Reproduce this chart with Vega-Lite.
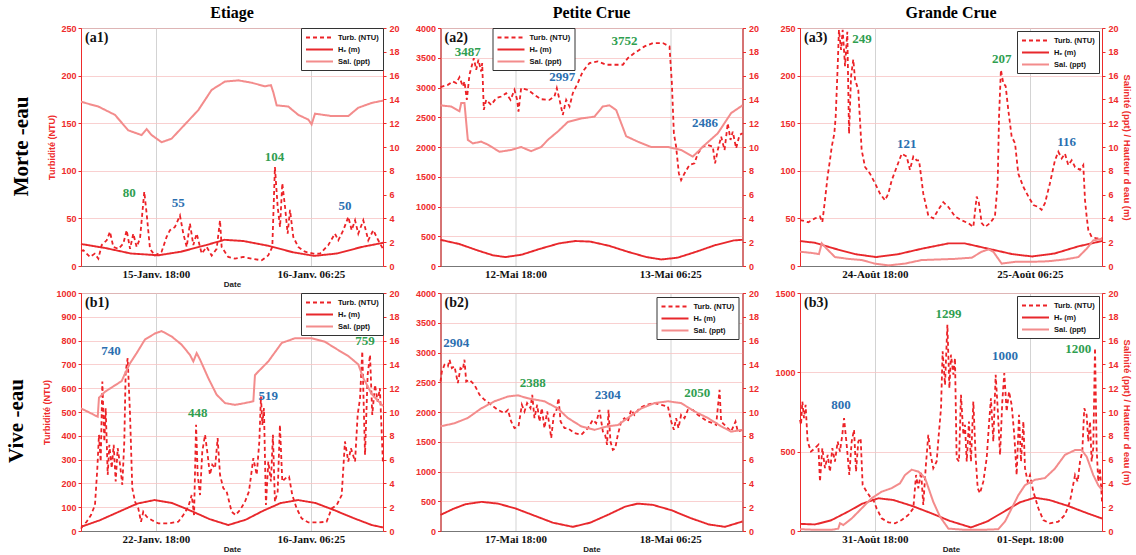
{
"$schema": "https://vega.github.io/schema/vega-lite/v6.json",
"background": "white",
"padding": {"left": 6, "top": 4, "right": 5, "bottom": 3},
"config": {
  "font": "Liberation Sans",
  "view": {"stroke": "#7a7a7a", "strokeWidth": 1},
  "title": {"font": "Liberation Serif", "fontSize": 16, "fontWeight": "bold", "color": "#000", "offset": 3, "anchor": "middle", "frame": "group"},
  "axis": {"labelFont": "Liberation Sans", "labelFontWeight": "bold", "labelFontSize": 9, "titleFont": "Liberation Sans", "titleFontWeight": "bold", "titleFontSize": 9, "tickSize": 3, "domainWidth": 1, "gridWidth": 0.8, "labelOverlap": false},
  "axisX": {"labelFont": "Liberation Serif", "labelFontSize": 11, "labelColor": "#111", "titleColor": "#222", "titleFontSize": 8, "titlePadding": 1, "labelPadding": 2, "ticks": false, "domainColor": "#777", "gridColor": "#c8c8c8", "grid": true},
  "axisLeft": {"labelColor": "#ee2b2b", "titleColor": "#ee2b2b", "domainColor": "#ee2b2b", "tickColor": "#ee2b2b", "gridColor": "#f7c4c4", "grid": true, "labelPadding": 2, "titlePadding": 4, "format": "d", "labelOverlap": false},
  "axisRight": {"labelColor": "#ee2b2b", "titleColor": "#ee2b2b", "domainColor": "#ee2b2b", "tickColor": "#ee2b2b", "grid": false, "labelPadding": 3, "titlePadding": 3, "titleFontSize": 9.5, "format": "d", "labelOverlap": false},
  "legend": {"strokeColor": "#333", "fillColor": "white", "padding": 4, "cornerRadius": 0, "labelFont": "Liberation Sans", "labelFontWeight": "bold", "labelFontSize": 7.5, "labelColor": "#111", "symbolSize": 81, "labelOffset": 22, "rowPadding": 2, "offset": 0}
},
"datasets": {
  "a1t": [{"h":0,"v":16},{"h":0.19,"v":16.5},{"h":0.72,"v":9.5},{"h":1.1,"v":13},{"h":1.39,"v":7.7},{"h":1.66,"v":22},{"h":2.06,"v":27},{"h":2.32,"v":36},{"h":2.59,"v":20},{"h":3.0,"v":18},{"h":3.39,"v":23.5},{"h":3.66,"v":37.6},{"h":3.93,"v":18},{"h":4.19,"v":34},{"h":4.46,"v":20},{"h":4.73,"v":29},{"h":4.91,"v":55},{"h":5.07,"v":78},{"h":5.26,"v":55},{"h":5.53,"v":18},{"h":5.93,"v":11},{"h":6.46,"v":15},{"h":6.86,"v":30.5},{"h":7.13,"v":37.6},{"h":7.53,"v":41},{"h":7.93,"v":53},{"h":8.2,"v":34},{"h":8.47,"v":20},{"h":8.73,"v":44.6},{"h":9.0,"v":22},{"h":9.27,"v":34},{"h":9.67,"v":13},{"h":10.07,"v":20},{"h":10.47,"v":11},{"h":10.87,"v":18},{"h":11.14,"v":48},{"h":11.27,"v":20},{"h":11.8,"v":9.5},{"h":12.34,"v":7.7},{"h":13.0,"v":9.5},{"h":13.68,"v":7.7},{"h":14.48,"v":6},{"h":15.0,"v":11},{"h":15.33,"v":20},{"h":15.54,"v":104},{"h":15.76,"v":62},{"h":15.95,"v":41},{"h":16.13,"v":87},{"h":16.35,"v":62},{"h":16.56,"v":34},{"h":16.75,"v":59},{"h":17.01,"v":30.5},{"h":17.41,"v":20},{"h":17.95,"v":15},{"h":18.62,"v":13},{"h":19.15,"v":13},{"h":19.82,"v":22},{"h":20.35,"v":34},{"h":20.62,"v":27},{"h":21.02,"v":37.6},{"h":21.42,"v":51.6},{"h":21.69,"v":37.6},{"h":21.96,"v":48},{"h":22.22,"v":34},{"h":22.62,"v":48},{"h":23.02,"v":27},{"h":23.42,"v":37.6},{"h":23.82,"v":27},{"h":24.2,"v":18}],
  "a1h": [{"h":0,"v":1.85},{"h":2,"v":1.5},{"h":4,"v":1.05},{"h":6.2,"v":0.9},{"h":8,"v":1.2},{"h":10,"v":1.75},{"h":11.5,"v":2.2},{"h":13,"v":2.1},{"h":15,"v":1.7},{"h":17,"v":1.15},{"h":18.7,"v":0.85},{"h":20.5,"v":1.05},{"h":22.5,"v":1.6},{"h":24.2,"v":1.95}],
  "a1s": [{"h":0,"v":13.8},{"h":1.39,"v":13.4},{"h":2.72,"v":12.7},{"h":3.79,"v":11.4},{"h":4.86,"v":11.0},{"h":5.26,"v":11.5},{"h":5.66,"v":11.0},{"h":6.46,"v":10.4},{"h":7.26,"v":10.7},{"h":8.33,"v":11.9},{"h":9.4,"v":13.1},{"h":10.47,"v":14.8},{"h":11.54,"v":15.5},{"h":12.61,"v":15.6},{"h":13.68,"v":15.4},{"h":14.74,"v":15.1},{"h":15.22,"v":15.2},{"h":15.41,"v":14.6},{"h":15.68,"v":13.5},{"h":16.61,"v":13.4},{"h":17.41,"v":12.7},{"h":18.22,"v":12.3},{"h":18.48,"v":11.9},{"h":18.75,"v":12.8},{"h":20.09,"v":12.6},{"h":21.42,"v":12.6},{"h":22.22,"v":13.3},{"h":23.29,"v":13.7},{"h":24.2,"v":13.9}],
  "a1p": [{"h":3.87,"v":77,"label":"80","type":"A"},{"h":7.8,"v":66,"label":"55","type":"B"},{"h":15.5,"v":115,"label":"104","type":"A"},{"h":21.15,"v":63,"label":"50","type":"B"}],
  "a2t": [{"h":0,"v":3006},{"h":0.59,"v":3045},{"h":0.99,"v":3101},{"h":1.26,"v":3073},{"h":1.52,"v":3174},{"h":1.79,"v":3017},{"h":1.92,"v":3101},{"h":2.11,"v":2792},{"h":2.32,"v":3213},{"h":2.46,"v":3326},{"h":2.67,"v":3494},{"h":2.86,"v":3298},{"h":3.04,"v":3466},{"h":3.26,"v":3270},{"h":3.34,"v":3410},{"h":3.47,"v":2624},{"h":3.66,"v":2792},{"h":4.06,"v":2708},{"h":4.46,"v":2820},{"h":4.86,"v":2848},{"h":5.26,"v":2904},{"h":5.61,"v":2792},{"h":5.93,"v":2961},{"h":6.14,"v":2792},{"h":6.25,"v":2596},{"h":6.46,"v":2989},{"h":7.0,"v":2961},{"h":7.53,"v":2876},{"h":8.07,"v":2803},{"h":8.73,"v":2792},{"h":9.13,"v":2848},{"h":9.32,"v":2989},{"h":9.54,"v":2792},{"h":9.8,"v":2539},{"h":10.07,"v":2792},{"h":10.34,"v":2680},{"h":10.6,"v":2904},{"h":11.0,"v":3073},{"h":11.4,"v":3270},{"h":11.94,"v":3410},{"h":12.61,"v":3438},{"h":13.27,"v":3382},{"h":13.94,"v":3382},{"h":14.61,"v":3382},{"h":15.01,"v":3494},{"h":15.54,"v":3579},{"h":16.35,"v":3691},{"h":17.02,"v":3747},{"h":17.82,"v":3747},{"h":18.35,"v":3691},{"h":18.54,"v":3073},{"h":18.7,"v":2230},{"h":18.88,"v":2006},{"h":19.1,"v":1556},{"h":19.28,"v":1444},{"h":19.55,"v":1556},{"h":19.95,"v":1697},{"h":20.35,"v":1725},{"h":20.62,"v":1893},{"h":21.02,"v":2006},{"h":21.42,"v":2034},{"h":21.82,"v":2006},{"h":22.0,"v":1725},{"h":22.22,"v":1949},{"h":22.49,"v":2174},{"h":22.76,"v":1949},{"h":23.02,"v":2399},{"h":23.24,"v":2118},{"h":23.42,"v":2258},{"h":23.69,"v":1978},{"h":23.96,"v":2202},{"h":24.2,"v":2230}],
  "a2h": [{"h":0,"v":2.2},{"h":1.5,"v":1.85},{"h":3,"v":1.3},{"h":4.2,"v":0.9},{"h":5.2,"v":0.75},{"h":6.5,"v":0.95},{"h":8,"v":1.45},{"h":9.5,"v":1.9},{"h":10.8,"v":2.1},{"h":12,"v":2.05},{"h":13.5,"v":1.7},{"h":15,"v":1.2},{"h":16.5,"v":0.75},{"h":17.7,"v":0.55},{"h":19,"v":0.7},{"h":20.5,"v":1.2},{"h":22,"v":1.75},{"h":23.5,"v":2.15},{"h":24.2,"v":2.2}],
  "a2s": [{"h":0,"v":13.5},{"h":0.85,"v":13.4},{"h":1.52,"v":13.0},{"h":1.66,"v":13.7},{"h":1.92,"v":13.7},{"h":2.19,"v":10.6},{"h":2.59,"v":10.3},{"h":3.26,"v":10.45},{"h":3.79,"v":10.2},{"h":4.73,"v":9.6},{"h":5.66,"v":9.75},{"h":6.46,"v":10.0},{"h":7.26,"v":9.65},{"h":8.07,"v":10.0},{"h":8.6,"v":10.6},{"h":9.4,"v":11.3},{"h":10.2,"v":12.1},{"h":11.27,"v":12.4},{"h":12.34,"v":12.55},{"h":13.0,"v":13.4},{"h":13.54,"v":13.5},{"h":14.08,"v":13.1},{"h":14.88,"v":10.9},{"h":15.81,"v":10.45},{"h":16.88,"v":10.0},{"h":18.22,"v":10.0},{"h":19.28,"v":9.75},{"h":20.22,"v":9.2},{"h":20.62,"v":9.6},{"h":21.15,"v":10.15},{"h":22.22,"v":11.15},{"h":23.29,"v":12.85},{"h":24.2,"v":13.5}],
  "a2p": [{"h":2.19,"v":3596,"label":"3487","type":"A"},{"h":9.75,"v":3174,"label":"2997","type":"B"},{"h":14.74,"v":3775,"label":"3752","type":"A"},{"h":21.2,"v":2399,"label":"2486","type":"B"}],
  "a3t": [{"h":0,"v":48},{"h":0.13,"v":48},{"h":0.67,"v":46},{"h":1.2,"v":50},{"h":1.6,"v":52},{"h":1.79,"v":46},{"h":2.0,"v":69},{"h":2.22,"v":95},{"h":2.4,"v":111},{"h":2.54,"v":125},{"h":2.75,"v":139},{"h":2.86,"v":157},{"h":3.02,"v":210},{"h":3.12,"v":248},{"h":3.29,"v":227},{"h":3.42,"v":248},{"h":3.61,"v":210},{"h":3.79,"v":246},{"h":3.93,"v":139},{"h":4.09,"v":199},{"h":4.27,"v":217},{"h":4.41,"v":196},{"h":4.67,"v":185},{"h":4.94,"v":122},{"h":5.21,"v":104},{"h":5.61,"v":97},{"h":6.01,"v":87},{"h":6.41,"v":76},{"h":6.81,"v":69},{"h":7.08,"v":76},{"h":7.35,"v":90},{"h":7.75,"v":104},{"h":8.15,"v":118},{"h":8.55,"v":115},{"h":8.81,"v":101},{"h":9.08,"v":115},{"h":9.35,"v":111},{"h":9.54,"v":111},{"h":9.88,"v":76},{"h":10.28,"v":53},{"h":10.68,"v":50},{"h":11.08,"v":59},{"h":11.48,"v":67},{"h":11.89,"v":62},{"h":12.42,"v":52},{"h":12.95,"v":48},{"h":13.49,"v":45},{"h":13.89,"v":41},{"h":14.16,"v":73},{"h":14.34,"v":66},{"h":14.56,"v":45},{"h":14.83,"v":41},{"h":15.22,"v":45},{"h":15.62,"v":52},{"h":15.84,"v":87},{"h":15.95,"v":157},{"h":16.1,"v":206},{"h":16.29,"v":192},{"h":16.48,"v":189},{"h":16.69,"v":164},{"h":16.96,"v":136},{"h":17.23,"v":129},{"h":17.49,"v":97},{"h":17.9,"v":83},{"h":18.3,"v":73},{"h":18.7,"v":64},{"h":19.1,"v":62},{"h":19.36,"v":59},{"h":19.63,"v":66},{"h":20.03,"v":87},{"h":20.43,"v":111},{"h":20.7,"v":120},{"h":20.97,"v":113},{"h":21.23,"v":118},{"h":21.5,"v":106},{"h":21.77,"v":111},{"h":22.04,"v":104},{"h":22.44,"v":101},{"h":22.7,"v":106},{"h":22.84,"v":69},{"h":22.97,"v":52},{"h":23.1,"v":38},{"h":23.37,"v":30.5},{"h":23.77,"v":29},{"h":24.2,"v":29}],
  "a3h": [{"h":0,"v":2.1},{"h":1.2,"v":1.95},{"h":2.8,"v":1.45},{"h":4.4,"v":1.0},{"h":6.1,"v":0.75},{"h":7.9,"v":1.0},{"h":9.75,"v":1.45},{"h":11.9,"v":1.9},{"h":13.2,"v":1.9},{"h":15.1,"v":1.45},{"h":17,"v":1.0},{"h":18.6,"v":0.8},{"h":20.4,"v":1.05},{"h":22.3,"v":1.65},{"h":24.2,"v":2.1}],
  "a3s": [{"h":0,"v":1.2},{"h":0.93,"v":1.1},{"h":1.52,"v":1.0},{"h":1.74,"v":1.9},{"h":2.14,"v":1.45},{"h":2.8,"v":0.75},{"h":3.87,"v":0.6},{"h":4.94,"v":0.5},{"h":6.0,"v":0.2},{"h":7.08,"v":0.05},{"h":8.41,"v":0.2},{"h":9.75,"v":0.5},{"h":11.08,"v":0.55},{"h":12.42,"v":0.6},{"h":13.76,"v":0.7},{"h":14.56,"v":1.2},{"h":15.1,"v":1.4},{"h":15.49,"v":1.2},{"h":16.16,"v":0.2},{"h":17.23,"v":0.35},{"h":18.56,"v":0.35},{"h":19.9,"v":0.4},{"h":21.23,"v":0.55},{"h":22.3,"v":0.75},{"h":22.97,"v":1.45},{"h":23.5,"v":2.15},{"h":24.2,"v":2.3}],
  "a3p": [{"h":4.97,"v":238,"label":"249","type":"A"},{"h":8.55,"v":128,"label":"121","type":"B"},{"h":16.16,"v":217,"label":"207","type":"A"},{"h":21.37,"v":130,"label":"116","type":"B"}],
  "b1t": [{"h":0,"v":10},{"h":0.1,"v":18},{"h":0.45,"v":39},{"h":0.8,"v":67},{"h":1.12,"v":109},{"h":1.31,"v":264},{"h":1.44,"v":404},{"h":1.58,"v":292},{"h":1.71,"v":628},{"h":1.87,"v":376},{"h":1.98,"v":516},{"h":2.14,"v":236},{"h":2.27,"v":362},{"h":2.46,"v":264},{"h":2.62,"v":362},{"h":2.78,"v":208},{"h":2.94,"v":348},{"h":3.13,"v":278},{"h":3.31,"v":194},{"h":3.47,"v":376},{"h":3.58,"v":670},{"h":3.74,"v":726},{"h":3.93,"v":488},{"h":4.11,"v":180},{"h":4.33,"v":123},{"h":4.59,"v":95},{"h":4.81,"v":39},{"h":4.99,"v":81},{"h":5.26,"v":60},{"h":5.66,"v":46},{"h":6.2,"v":32},{"h":7.0,"v":32},{"h":7.8,"v":39},{"h":8.2,"v":67},{"h":8.6,"v":102},{"h":8.87,"v":151},{"h":9.06,"v":67},{"h":9.22,"v":446},{"h":9.35,"v":236},{"h":9.54,"v":151},{"h":9.72,"v":334},{"h":9.94,"v":404},{"h":10.15,"v":320},{"h":10.33,"v":236},{"h":10.52,"v":278},{"h":10.74,"v":264},{"h":10.95,"v":390},{"h":11.14,"v":236},{"h":11.4,"v":180},{"h":11.67,"v":166},{"h":12.07,"v":81},{"h":12.39,"v":67},{"h":12.74,"v":88},{"h":13.14,"v":123},{"h":13.46,"v":166},{"h":13.81,"v":306},{"h":14.08,"v":236},{"h":14.29,"v":376},{"h":14.42,"v":565},{"h":14.53,"v":446},{"h":14.66,"v":516},{"h":14.82,"v":109},{"h":15.01,"v":292},{"h":15.22,"v":208},{"h":15.38,"v":404},{"h":15.54,"v":123},{"h":15.76,"v":166},{"h":15.94,"v":446},{"h":16.13,"v":208},{"h":16.4,"v":222},{"h":16.67,"v":229},{"h":16.93,"v":151},{"h":17.28,"v":95},{"h":17.68,"v":53},{"h":18.22,"v":36},{"h":19.02,"v":36},{"h":19.68,"v":39},{"h":20.09,"v":95},{"h":20.49,"v":109},{"h":20.89,"v":151},{"h":21.15,"v":376},{"h":21.42,"v":292},{"h":21.63,"v":348},{"h":21.96,"v":292},{"h":22.17,"v":488},{"h":22.36,"v":558},{"h":22.54,"v":755},{"h":22.76,"v":320},{"h":22.97,"v":656},{"h":23.16,"v":740},{"h":23.34,"v":488},{"h":23.56,"v":614},{"h":23.77,"v":544},{"h":23.95,"v":600},{"h":24.2,"v":280}],
  "b1h": [{"h":0,"v":0.35},{"h":1.5,"v":0.9},{"h":3,"v":1.6},{"h":4.5,"v":2.3},{"h":5.9,"v":2.6},{"h":7.3,"v":2.35},{"h":8.8,"v":1.7},{"h":10.3,"v":1.0},{"h":11.8,"v":0.5},{"h":13.2,"v":0.95},{"h":14.6,"v":1.7},{"h":16,"v":2.35},{"h":17.4,"v":2.6},{"h":18.8,"v":2.35},{"h":20.3,"v":1.75},{"h":21.8,"v":1.1},{"h":23.3,"v":0.5},{"h":24.2,"v":0.3}],
  "b1s": [{"h":0,"v":10.3},{"h":0.59,"v":10.0},{"h":1.34,"v":9.6},{"h":1.44,"v":11.2},{"h":1.92,"v":11.7},{"h":2.59,"v":12.15},{"h":3.26,"v":12.6},{"h":3.47,"v":13.1},{"h":3.93,"v":14.1},{"h":4.46,"v":14.95},{"h":5.13,"v":16.1},{"h":5.93,"v":16.6},{"h":6.46,"v":16.8},{"h":7.26,"v":16.35},{"h":8.07,"v":15.65},{"h":8.73,"v":14.8},{"h":9.0,"v":14.25},{"h":9.27,"v":14.95},{"h":9.54,"v":14.4},{"h":10.2,"v":12.85},{"h":10.87,"v":11.45},{"h":11.54,"v":10.75},{"h":12.34,"v":10.6},{"h":13.14,"v":10.75},{"h":13.81,"v":10.9},{"h":13.94,"v":13.1},{"h":14.21,"v":13.4},{"h":15.01,"v":14.25},{"h":16.08,"v":15.8},{"h":17.15,"v":16.2},{"h":18.48,"v":16.2},{"h":19.55,"v":15.9},{"h":20.62,"v":15.2},{"h":21.42,"v":14.7},{"h":22.22,"v":14.0},{"h":22.62,"v":12.85},{"h":23.3,"v":11.5},{"h":24.2,"v":10.5}],
  "b1p": [{"h":2.4,"v":757,"label":"740","type":"B"},{"h":9.35,"v":495,"label":"448","type":"A"},{"h":15.01,"v":569,"label":"519","type":"B"},{"h":22.75,"v":800,"label":"759","type":"A"}],
  "b2t": [{"h":0,"v":2513},{"h":0.11,"v":2682},{"h":0.32,"v":2794},{"h":0.59,"v":2766},{"h":0.72,"v":2878},{"h":0.91,"v":2738},{"h":1.12,"v":2766},{"h":1.26,"v":2626},{"h":1.39,"v":2485},{"h":1.6,"v":2738},{"h":1.79,"v":2710},{"h":1.92,"v":2878},{"h":2.06,"v":2513},{"h":2.32,"v":2541},{"h":2.72,"v":2457},{"h":3.13,"v":2289},{"h":3.53,"v":2205},{"h":4.06,"v":2121},{"h":4.59,"v":2036},{"h":5.13,"v":1980},{"h":5.4,"v":2036},{"h":5.66,"v":1840},{"h":5.93,"v":1728},{"h":6.25,"v":1756},{"h":6.52,"v":2121},{"h":6.73,"v":2008},{"h":6.94,"v":2149},{"h":7.21,"v":2064},{"h":7.35,"v":2289},{"h":7.53,"v":1896},{"h":7.75,"v":2121},{"h":7.93,"v":1840},{"h":8.12,"v":2064},{"h":8.33,"v":1728},{"h":8.55,"v":2008},{"h":8.73,"v":1784},{"h":8.87,"v":1560},{"h":9.08,"v":1952},{"h":9.27,"v":2008},{"h":9.46,"v":2233},{"h":9.62,"v":1840},{"h":9.94,"v":1728},{"h":10.2,"v":1728},{"h":10.74,"v":1644},{"h":11.27,"v":1616},{"h":11.81,"v":1728},{"h":12.21,"v":1868},{"h":12.47,"v":1812},{"h":12.74,"v":2036},{"h":13.01,"v":1672},{"h":13.19,"v":1616},{"h":13.35,"v":1447},{"h":13.46,"v":2036},{"h":13.62,"v":1504},{"h":13.81,"v":1363},{"h":14.0,"v":1391},{"h":14.21,"v":1616},{"h":14.48,"v":1840},{"h":14.74,"v":1896},{"h":15.01,"v":1840},{"h":15.28,"v":2036},{"h":15.54,"v":1952},{"h":15.94,"v":2064},{"h":16.48,"v":2121},{"h":17.15,"v":2149},{"h":17.68,"v":2121},{"h":18.22,"v":2093},{"h":18.49,"v":1840},{"h":18.7,"v":1700},{"h":18.88,"v":1896},{"h":19.07,"v":1728},{"h":19.28,"v":1952},{"h":19.55,"v":1896},{"h":19.82,"v":2036},{"h":20.22,"v":2036},{"h":20.62,"v":1952},{"h":21.02,"v":1896},{"h":21.42,"v":1840},{"h":21.82,"v":1812},{"h":22.09,"v":1784},{"h":22.36,"v":2373},{"h":22.49,"v":1840},{"h":22.89,"v":1756},{"h":23.29,"v":1672},{"h":23.64,"v":1840},{"h":23.82,"v":1672},{"h":24.2,"v":1700}],
  "b2h": [{"h":0,"v":1.35},{"h":1,"v":1.85},{"h":2,"v":2.25},{"h":3.3,"v":2.45},{"h":4.6,"v":2.3},{"h":6,"v":1.9},{"h":7.5,"v":1.3},{"h":9,"v":0.7},{"h":10.6,"v":0.35},{"h":12,"v":0.7},{"h":13.5,"v":1.4},{"h":14.8,"v":2.05},{"h":15.8,"v":2.3},{"h":17,"v":2.2},{"h":18.5,"v":1.75},{"h":20,"v":1.1},{"h":21.5,"v":0.55},{"h":22.8,"v":0.35},{"h":24.2,"v":0.8}],
  "b2s": [{"h":0,"v":8.8},{"h":1.12,"v":9.05},{"h":2.19,"v":9.5},{"h":3.26,"v":10.3},{"h":4.33,"v":10.9},{"h":5.4,"v":11.3},{"h":6.2,"v":11.4},{"h":7.0,"v":11.15},{"h":8.33,"v":10.9},{"h":9.4,"v":10.3},{"h":10.2,"v":9.5},{"h":11.27,"v":8.8},{"h":12.34,"v":8.5},{"h":13.4,"v":8.8},{"h":14.21,"v":8.9},{"h":15.01,"v":9.5},{"h":16.08,"v":10.3},{"h":17.15,"v":10.75},{"h":18.22,"v":10.9},{"h":19.28,"v":10.75},{"h":20.35,"v":10.05},{"h":21.42,"v":9.5},{"h":22.49,"v":8.8},{"h":23.29,"v":8.35},{"h":24.2,"v":8.5}],
  "b2p": [{"h":1.26,"v":3158,"label":"2904","type":"B"},{"h":7.4,"v":2485,"label":"2388","type":"A"},{"h":13.41,"v":2278,"label":"2304","type":"B"},{"h":20.57,"v":2317,"label":"2050","type":"A"}],
  "b3t": [{"h":0,"v":700},{"h":0.08,"v":669},{"h":0.19,"v":816},{"h":0.32,"v":711},{"h":0.45,"v":795},{"h":0.61,"v":564},{"h":0.88,"v":501},{"h":1.2,"v":522},{"h":1.47,"v":543},{"h":1.6,"v":311},{"h":1.79,"v":522},{"h":2.0,"v":396},{"h":2.22,"v":480},{"h":2.4,"v":374},{"h":2.59,"v":522},{"h":2.8,"v":438},{"h":3.02,"v":564},{"h":3.2,"v":501},{"h":3.39,"v":606},{"h":3.53,"v":711},{"h":3.74,"v":543},{"h":3.95,"v":353},{"h":4.14,"v":564},{"h":4.33,"v":638},{"h":4.49,"v":374},{"h":4.67,"v":564},{"h":4.86,"v":585},{"h":5.02,"v":290},{"h":5.34,"v":248},{"h":5.61,"v":217},{"h":5.88,"v":196},{"h":6.14,"v":143},{"h":6.54,"v":80},{"h":7.08,"v":55},{"h":7.61,"v":48},{"h":8.15,"v":69},{"h":8.68,"v":101},{"h":9.08,"v":143},{"h":9.3,"v":353},{"h":9.48,"v":269},{"h":9.7,"v":374},{"h":9.88,"v":164},{"h":10.07,"v":396},{"h":10.28,"v":606},{"h":10.47,"v":480},{"h":10.68,"v":396},{"h":10.95,"v":438},{"h":11.14,"v":627},{"h":11.3,"v":774},{"h":11.43,"v":1132},{"h":11.62,"v":921},{"h":11.81,"v":1300},{"h":11.97,"v":900},{"h":12.1,"v":1111},{"h":12.29,"v":985},{"h":12.42,"v":1090},{"h":12.55,"v":459},{"h":12.74,"v":438},{"h":12.9,"v":858},{"h":13.09,"v":606},{"h":13.22,"v":669},{"h":13.36,"v":438},{"h":13.54,"v":690},{"h":13.7,"v":438},{"h":13.89,"v":816},{"h":14.08,"v":459},{"h":14.24,"v":269},{"h":14.42,"v":238},{"h":14.69,"v":311},{"h":14.96,"v":459},{"h":15.14,"v":669},{"h":15.3,"v":837},{"h":15.49,"v":564},{"h":15.68,"v":985},{"h":15.84,"v":774},{"h":16.03,"v":480},{"h":16.21,"v":816},{"h":16.37,"v":995},{"h":16.56,"v":753},{"h":16.75,"v":879},{"h":16.96,"v":795},{"h":17.17,"v":606},{"h":17.36,"v":353},{"h":17.55,"v":732},{"h":17.71,"v":438},{"h":17.9,"v":690},{"h":18.03,"v":396},{"h":18.24,"v":311},{"h":18.43,"v":353},{"h":18.7,"v":248},{"h":19.1,"v":143},{"h":19.5,"v":69},{"h":20.03,"v":48},{"h":20.7,"v":59},{"h":21.23,"v":101},{"h":21.63,"v":185},{"h":22.04,"v":353},{"h":22.25,"v":311},{"h":22.44,"v":438},{"h":22.62,"v":501},{"h":22.78,"v":774},{"h":22.97,"v":732},{"h":23.1,"v":564},{"h":23.24,"v":690},{"h":23.37,"v":438},{"h":23.5,"v":522},{"h":23.64,"v":1153},{"h":23.77,"v":522},{"h":23.9,"v":311},{"h":24.04,"v":396},{"h":24.2,"v":185}],
  "b3h": [{"h":0,"v":0.6},{"h":1.2,"v":0.55},{"h":2.5,"v":0.9},{"h":3.8,"v":1.6},{"h":5,"v":2.3},{"h":6.3,"v":2.75},{"h":7.5,"v":2.6},{"h":9,"v":2.1},{"h":10.5,"v":1.5},{"h":12,"v":0.85},{"h":13.7,"v":0.3},{"h":15,"v":0.8},{"h":16.3,"v":1.6},{"h":17.6,"v":2.4},{"h":18.8,"v":2.8},{"h":20,"v":2.6},{"h":21.5,"v":2.1},{"h":23,"v":1.5},{"h":24.2,"v":1.05}],
  "b3s": [{"h":0,"v":0.15},{"h":1.2,"v":0.1},{"h":2.54,"v":0.1},{"h":3.07,"v":0.2},{"h":3.2,"v":0.65},{"h":3.47,"v":0.5},{"h":4.14,"v":1.05},{"h":4.94,"v":1.9},{"h":5.74,"v":2.75},{"h":6.54,"v":3.3},{"h":7.35,"v":3.6},{"h":8.01,"v":4.0},{"h":8.41,"v":4.7},{"h":8.95,"v":5.15},{"h":9.48,"v":5.0},{"h":10.02,"v":4.45},{"h":10.68,"v":2.45},{"h":11.22,"v":1.2},{"h":11.89,"v":0.2},{"h":13.22,"v":0.1},{"h":14.56,"v":0.1},{"h":15.89,"v":0.15},{"h":16.43,"v":0.8},{"h":16.96,"v":1.9},{"h":17.49,"v":3.0},{"h":18.03,"v":3.85},{"h":18.83,"v":4.3},{"h":19.63,"v":4.45},{"h":20.43,"v":5.25},{"h":21.23,"v":6.4},{"h":22.04,"v":6.8},{"h":22.57,"v":6.8},{"h":22.97,"v":6.25},{"h":23.5,"v":4.7},{"h":23.9,"v":3.85},{"h":24.2,"v":3.45}],
  "b3p": [{"h":3.29,"v":791,"label":"800","type":"B"},{"h":11.89,"v":1368,"label":"1299","type":"A"},{"h":16.43,"v":1105,"label":"1000","type":"B"},{"h":22.3,"v":1149,"label":"1200","type":"A"}]
},
"resolve": {"scale": {"color": "independent", "strokeDash": "independent", "strokeWidth": "independent"}, "legend": {"color": "independent", "strokeDash": "independent", "strokeWidth": "independent"}},
"spacing": -1,
"vconcat": [
 {
  "title": {"text": "Morte -eau", "orient": "left", "anchor": "middle", "frame": "bounds", "font": "Liberation Serif", "fontSize": 21, "fontWeight": "bold", "color": "#000", "offset": 15},
  "bounds": "flush", "spacing": 57.5,
  "resolve": {"scale": {"color": "independent", "strokeDash": "independent", "strokeWidth": "independent"}, "legend": {"color": "independent", "strokeDash": "independent", "strokeWidth": "independent"}},
  "hconcat": [
   {"width": 302, "height": 238, "title": "Etiage", "resolve": {"scale": {"y": "independent"}},
    "layer": [
     {"layer": [
       {"data": {"name": "a1t"}, "mark": {"type": "line"},
        "encoding": {
         "x": {"field": "h", "type": "quantitative", "scale": {"domain": [0, 24.2], "nice": false, "zero": false}, "axis": {"values": [6, 18.4167], "labelExpr": "datum.value < 10 ? '15-Janv. 18:00' : '16-Janv. 06:25'", "title": "Date"}},
         "y": {"field": "v", "type": "quantitative", "scale": {"domain": [0, 250], "nice": false}, "axis": {"orient": "left", "values": [0, 50, 100, 150, 200, 250], "tickCount": 20, "title": "Turbidité (NTU)"}},
         "color": {"datum": "Turb. (NTU)", "scale": {"domain": ["Turb. (NTU)", "Hₑ (m)", "Sal. (ppt)"], "range": ["#ec2227", "#e8282c", "#f38c8c"]}, "legend": {"title": null, "orient": "top-right", "symbolType": "M-1,0L5,0"}},
         "strokeDash": {"datum": "Turb. (NTU)", "scale": {"domain": ["Turb. (NTU)", "Hₑ (m)", "Sal. (ppt)"], "range": [[4, 3], [1, 0], [1, 0]]}, "legend": {"title": null, "orient": "top-right", "symbolType": "M-1,0L5,0"}},
         "strokeWidth": {"datum": "Turb. (NTU)", "type": "ordinal", "scale": {"domain": ["Turb. (NTU)", "Hₑ (m)", "Sal. (ppt)"], "range": [1.8, 2, 1.2]}, "legend": {"title": null, "orient": "top-right", "symbolType": "M-1,0L5,0"}}
        }},
       {"data": {"name": "a1p"}, "transform": [{"filter": "datum.type == 'A'"}], "mark": {"type": "text", "color": "#2f9e50", "font": "Liberation Serif", "fontWeight": "bold", "fontSize": 13},
        "encoding": {"x": {"field": "h", "type": "quantitative", "scale": {"domain": [0, 24.2], "nice": false, "zero": false}, "title": "Date"}, "y": {"field": "v", "type": "quantitative", "scale": {"domain": [0, 250], "nice": false}, "title": "Turbidité (NTU)"}, "text": {"field": "label"}}},
       {"data": {"name": "a1p"}, "transform": [{"filter": "datum.type == 'B'"}], "mark": {"type": "text", "color": "#2b6fb0", "font": "Liberation Serif", "fontWeight": "bold", "fontSize": 13},
        "encoding": {"x": {"field": "h", "type": "quantitative", "scale": {"domain": [0, 24.2], "nice": false, "zero": false}, "title": "Date"}, "y": {"field": "v", "type": "quantitative", "scale": {"domain": [0, 250], "nice": false}, "title": "Turbidité (NTU)"}, "text": {"field": "label"}}},
       {"data": {"values": [{}]}, "mark": {"type": "text", "text": "(a1)", "align": "left", "baseline": "top", "dx": 4, "dy": 3, "font": "Liberation Serif", "fontWeight": "bold", "fontSize": 14, "color": "#111"},
        "encoding": {"x": {"datum": 0, "type": "quantitative", "scale": {"domain": [0, 24.2], "nice": false, "zero": false}}, "y": {"datum": 250, "type": "quantitative", "scale": {"domain": [0, 250], "nice": false}}}}
     ]},
     {"layer": [
       {"data": {"name": "a1h"}, "mark": {"type": "line"},
        "encoding": {
         "x": {"field": "h", "type": "quantitative", "scale": {"domain": [0, 24.2], "nice": false, "zero": false}, "title": "Date"},
         "y": {"field": "v", "type": "quantitative", "scale": {"domain": [0, 20], "nice": false}, "axis": {"orient": "right", "values": [0, 2, 4, 6, 8, 10, 12, 14, 16, 18, 20], "tickCount": 20, "title": null}},
         "color": {"datum": "Hₑ (m)", "scale": {"domain": ["Turb. (NTU)", "Hₑ (m)", "Sal. (ppt)"], "range": ["#ec2227", "#e8282c", "#f38c8c"]}, "legend": {"title": null, "orient": "top-right", "symbolType": "M-1,0L5,0"}},
         "strokeDash": {"datum": "Hₑ (m)", "scale": {"domain": ["Turb. (NTU)", "Hₑ (m)", "Sal. (ppt)"], "range": [[4, 3], [1, 0], [1, 0]]}, "legend": {"title": null, "orient": "top-right", "symbolType": "M-1,0L5,0"}},
         "strokeWidth": {"datum": "Hₑ (m)", "type": "ordinal", "scale": {"domain": ["Turb. (NTU)", "Hₑ (m)", "Sal. (ppt)"], "range": [1.8, 2, 1.2]}, "legend": {"title": null, "orient": "top-right", "symbolType": "M-1,0L5,0"}}
        }},
       {"data": {"name": "a1s"}, "mark": {"type": "line"},
        "encoding": {
         "x": {"field": "h", "type": "quantitative", "scale": {"domain": [0, 24.2], "nice": false, "zero": false}, "title": "Date"},
         "y": {"field": "v", "type": "quantitative", "scale": {"domain": [0, 20], "nice": false}, "title": null},
         "color": {"datum": "Sal. (ppt)", "scale": {"domain": ["Turb. (NTU)", "Hₑ (m)", "Sal. (ppt)"], "range": ["#ec2227", "#e8282c", "#f38c8c"]}, "legend": {"title": null, "orient": "top-right", "symbolType": "M-1,0L5,0"}},
         "strokeDash": {"datum": "Sal. (ppt)", "scale": {"domain": ["Turb. (NTU)", "Hₑ (m)", "Sal. (ppt)"], "range": [[4, 3], [1, 0], [1, 0]]}, "legend": {"title": null, "orient": "top-right", "symbolType": "M-1,0L5,0"}},
         "strokeWidth": {"datum": "Sal. (ppt)", "type": "ordinal", "scale": {"domain": ["Turb. (NTU)", "Hₑ (m)", "Sal. (ppt)"], "range": [1.8, 2, 1.2]}, "legend": {"title": null, "orient": "top-right", "symbolType": "M-1,0L5,0"}}
        }}
     ]}
    ]},
   {"width": 302, "height": 238, "title": "Petite  Crue", "resolve": {"scale": {"y": "independent"}},
    "layer": [
     {"layer": [
       {"data": {"name": "a2t"}, "mark": {"type": "line"},
        "encoding": {
         "x": {"field": "h", "type": "quantitative", "scale": {"domain": [0, 24.2], "nice": false, "zero": false}, "axis": {"values": [6, 18.4167], "labelExpr": "datum.value < 10 ? '12-Mai 18:00' : '13-Mai 06:25'", "title": null}},
         "y": {"field": "v", "type": "quantitative", "scale": {"domain": [0, 4000], "nice": false}, "axis": {"orient": "left", "values": [0, 500, 1000, 1500, 2000, 2500, 3000, 3500, 4000], "tickCount": 20, "title": null}},
         "color": {"datum": "Turb. (NTU)", "scale": {"domain": ["Turb. (NTU)", "Hₑ (m)", "Sal. (ppt)"], "range": ["#ec2227", "#e8282c", "#f38c8c"]}, "legend": {"title": null, "orient": "none", "legendX": 52, "legendY": 0, "symbolType": "M-1,0L5,0"}},
         "strokeDash": {"datum": "Turb. (NTU)", "scale": {"domain": ["Turb. (NTU)", "Hₑ (m)", "Sal. (ppt)"], "range": [[4, 3], [1, 0], [1, 0]]}, "legend": {"title": null, "orient": "none", "legendX": 52, "legendY": 0, "symbolType": "M-1,0L5,0"}},
         "strokeWidth": {"datum": "Turb. (NTU)", "type": "ordinal", "scale": {"domain": ["Turb. (NTU)", "Hₑ (m)", "Sal. (ppt)"], "range": [1.8, 2, 1.2]}, "legend": {"title": null, "orient": "none", "legendX": 52, "legendY": 0, "symbolType": "M-1,0L5,0"}}
        }},
       {"data": {"name": "a2p"}, "transform": [{"filter": "datum.type == 'A'"}], "mark": {"type": "text", "color": "#2f9e50", "font": "Liberation Serif", "fontWeight": "bold", "fontSize": 13},
        "encoding": {"x": {"field": "h", "type": "quantitative", "scale": {"domain": [0, 24.2], "nice": false, "zero": false}, "title": null}, "y": {"field": "v", "type": "quantitative", "scale": {"domain": [0, 4000], "nice": false}, "title": null}, "text": {"field": "label"}}},
       {"data": {"name": "a2p"}, "transform": [{"filter": "datum.type == 'B'"}], "mark": {"type": "text", "color": "#2b6fb0", "font": "Liberation Serif", "fontWeight": "bold", "fontSize": 13},
        "encoding": {"x": {"field": "h", "type": "quantitative", "scale": {"domain": [0, 24.2], "nice": false, "zero": false}, "title": null}, "y": {"field": "v", "type": "quantitative", "scale": {"domain": [0, 4000], "nice": false}, "title": null}, "text": {"field": "label"}}},
       {"data": {"values": [{}]}, "mark": {"type": "text", "text": "(a2)", "align": "left", "baseline": "top", "dx": 4, "dy": 3, "font": "Liberation Serif", "fontWeight": "bold", "fontSize": 14, "color": "#111"},
        "encoding": {"x": {"datum": 0, "type": "quantitative", "scale": {"domain": [0, 24.2], "nice": false, "zero": false}}, "y": {"datum": 4000, "type": "quantitative", "scale": {"domain": [0, 4000], "nice": false}}}}
     ]},
     {"layer": [
       {"data": {"name": "a2h"}, "mark": {"type": "line"},
        "encoding": {
         "x": {"field": "h", "type": "quantitative", "scale": {"domain": [0, 24.2], "nice": false, "zero": false}, "title": null},
         "y": {"field": "v", "type": "quantitative", "scale": {"domain": [0, 20], "nice": false}, "axis": {"orient": "right", "values": [0, 2, 4, 6, 8, 10, 12, 14, 16, 18, 20], "tickCount": 20, "title": null}},
         "color": {"datum": "Hₑ (m)", "scale": {"domain": ["Turb. (NTU)", "Hₑ (m)", "Sal. (ppt)"], "range": ["#ec2227", "#e8282c", "#f38c8c"]}, "legend": {"title": null, "orient": "none", "legendX": 52, "legendY": 0, "symbolType": "M-1,0L5,0"}},
         "strokeDash": {"datum": "Hₑ (m)", "scale": {"domain": ["Turb. (NTU)", "Hₑ (m)", "Sal. (ppt)"], "range": [[4, 3], [1, 0], [1, 0]]}, "legend": {"title": null, "orient": "none", "legendX": 52, "legendY": 0, "symbolType": "M-1,0L5,0"}},
         "strokeWidth": {"datum": "Hₑ (m)", "type": "ordinal", "scale": {"domain": ["Turb. (NTU)", "Hₑ (m)", "Sal. (ppt)"], "range": [1.8, 2, 1.2]}, "legend": {"title": null, "orient": "none", "legendX": 52, "legendY": 0, "symbolType": "M-1,0L5,0"}}
        }},
       {"data": {"name": "a2s"}, "mark": {"type": "line"},
        "encoding": {
         "x": {"field": "h", "type": "quantitative", "scale": {"domain": [0, 24.2], "nice": false, "zero": false}, "title": null},
         "y": {"field": "v", "type": "quantitative", "scale": {"domain": [0, 20], "nice": false}, "title": null},
         "color": {"datum": "Sal. (ppt)", "scale": {"domain": ["Turb. (NTU)", "Hₑ (m)", "Sal. (ppt)"], "range": ["#ec2227", "#e8282c", "#f38c8c"]}, "legend": {"title": null, "orient": "none", "legendX": 52, "legendY": 0, "symbolType": "M-1,0L5,0"}},
         "strokeDash": {"datum": "Sal. (ppt)", "scale": {"domain": ["Turb. (NTU)", "Hₑ (m)", "Sal. (ppt)"], "range": [[4, 3], [1, 0], [1, 0]]}, "legend": {"title": null, "orient": "none", "legendX": 52, "legendY": 0, "symbolType": "M-1,0L5,0"}},
         "strokeWidth": {"datum": "Sal. (ppt)", "type": "ordinal", "scale": {"domain": ["Turb. (NTU)", "Hₑ (m)", "Sal. (ppt)"], "range": [1.8, 2, 1.2]}, "legend": {"title": null, "orient": "none", "legendX": 52, "legendY": 0, "symbolType": "M-1,0L5,0"}}
        }}
     ]}
    ]},
   {"width": 302, "height": 238, "title": "Grande Crue", "resolve": {"scale": {"y": "independent"}},
    "layer": [
     {"layer": [
       {"data": {"name": "a3t"}, "mark": {"type": "line"},
        "encoding": {
         "x": {"field": "h", "type": "quantitative", "scale": {"domain": [0, 24.2], "nice": false, "zero": false}, "axis": {"values": [6, 18.4167], "labelExpr": "datum.value < 10 ? '24-Août 18:00' : '25-Août 06:25'", "title": null}},
         "y": {"field": "v", "type": "quantitative", "scale": {"domain": [0, 250], "nice": false}, "axis": {"orient": "left", "values": [0, 50, 100, 150, 200, 250], "tickCount": 20, "title": null}},
         "color": {"datum": "Turb. (NTU)", "scale": {"domain": ["Turb. (NTU)", "Hₑ (m)", "Sal. (ppt)"], "range": ["#ec2227", "#e8282c", "#f38c8c"]}, "legend": {"title": null, "orient": "top-right", "offset": 3, "symbolType": "M-1,0L5,0"}},
         "strokeDash": {"datum": "Turb. (NTU)", "scale": {"domain": ["Turb. (NTU)", "Hₑ (m)", "Sal. (ppt)"], "range": [[4, 3], [1, 0], [1, 0]]}, "legend": {"title": null, "orient": "top-right", "offset": 3, "symbolType": "M-1,0L5,0"}},
         "strokeWidth": {"datum": "Turb. (NTU)", "type": "ordinal", "scale": {"domain": ["Turb. (NTU)", "Hₑ (m)", "Sal. (ppt)"], "range": [1.8, 2, 1.2]}, "legend": {"title": null, "orient": "top-right", "offset": 3, "symbolType": "M-1,0L5,0"}}
        }},
       {"data": {"name": "a3p"}, "transform": [{"filter": "datum.type == 'A'"}], "mark": {"type": "text", "color": "#2f9e50", "font": "Liberation Serif", "fontWeight": "bold", "fontSize": 13},
        "encoding": {"x": {"field": "h", "type": "quantitative", "scale": {"domain": [0, 24.2], "nice": false, "zero": false}, "title": null}, "y": {"field": "v", "type": "quantitative", "scale": {"domain": [0, 250], "nice": false}, "title": null}, "text": {"field": "label"}}},
       {"data": {"name": "a3p"}, "transform": [{"filter": "datum.type == 'B'"}], "mark": {"type": "text", "color": "#2b6fb0", "font": "Liberation Serif", "fontWeight": "bold", "fontSize": 13},
        "encoding": {"x": {"field": "h", "type": "quantitative", "scale": {"domain": [0, 24.2], "nice": false, "zero": false}, "title": null}, "y": {"field": "v", "type": "quantitative", "scale": {"domain": [0, 250], "nice": false}, "title": null}, "text": {"field": "label"}}},
       {"data": {"values": [{}]}, "mark": {"type": "text", "text": "(a3)", "align": "left", "baseline": "top", "dx": 4, "dy": 3, "font": "Liberation Serif", "fontWeight": "bold", "fontSize": 14, "color": "#111"},
        "encoding": {"x": {"datum": 0, "type": "quantitative", "scale": {"domain": [0, 24.2], "nice": false, "zero": false}}, "y": {"datum": 250, "type": "quantitative", "scale": {"domain": [0, 250], "nice": false}}}}
     ]},
     {"layer": [
       {"data": {"name": "a3h"}, "mark": {"type": "line"},
        "encoding": {
         "x": {"field": "h", "type": "quantitative", "scale": {"domain": [0, 24.2], "nice": false, "zero": false}, "title": null},
         "y": {"field": "v", "type": "quantitative", "scale": {"domain": [0, 20], "nice": false}, "axis": {"orient": "right", "values": [0, 2, 4, 6, 8, 10, 12, 14, 16, 18, 20], "tickCount": 20, "title": "Salinité (ppt) / Hauteur d eau (m)"}},
         "color": {"datum": "Hₑ (m)", "scale": {"domain": ["Turb. (NTU)", "Hₑ (m)", "Sal. (ppt)"], "range": ["#ec2227", "#e8282c", "#f38c8c"]}, "legend": {"title": null, "orient": "top-right", "offset": 3, "symbolType": "M-1,0L5,0"}},
         "strokeDash": {"datum": "Hₑ (m)", "scale": {"domain": ["Turb. (NTU)", "Hₑ (m)", "Sal. (ppt)"], "range": [[4, 3], [1, 0], [1, 0]]}, "legend": {"title": null, "orient": "top-right", "offset": 3, "symbolType": "M-1,0L5,0"}},
         "strokeWidth": {"datum": "Hₑ (m)", "type": "ordinal", "scale": {"domain": ["Turb. (NTU)", "Hₑ (m)", "Sal. (ppt)"], "range": [1.8, 2, 1.2]}, "legend": {"title": null, "orient": "top-right", "offset": 3, "symbolType": "M-1,0L5,0"}}
        }},
       {"data": {"name": "a3s"}, "mark": {"type": "line"},
        "encoding": {
         "x": {"field": "h", "type": "quantitative", "scale": {"domain": [0, 24.2], "nice": false, "zero": false}, "title": null},
         "y": {"field": "v", "type": "quantitative", "scale": {"domain": [0, 20], "nice": false}, "title": "Salinité (ppt) / Hauteur d eau (m)"},
         "color": {"datum": "Sal. (ppt)", "scale": {"domain": ["Turb. (NTU)", "Hₑ (m)", "Sal. (ppt)"], "range": ["#ec2227", "#e8282c", "#f38c8c"]}, "legend": {"title": null, "orient": "top-right", "offset": 3, "symbolType": "M-1,0L5,0"}},
         "strokeDash": {"datum": "Sal. (ppt)", "scale": {"domain": ["Turb. (NTU)", "Hₑ (m)", "Sal. (ppt)"], "range": [[4, 3], [1, 0], [1, 0]]}, "legend": {"title": null, "orient": "top-right", "offset": 3, "symbolType": "M-1,0L5,0"}},
         "strokeWidth": {"datum": "Sal. (ppt)", "type": "ordinal", "scale": {"domain": ["Turb. (NTU)", "Hₑ (m)", "Sal. (ppt)"], "range": [1.8, 2, 1.2]}, "legend": {"title": null, "orient": "top-right", "offset": 3, "symbolType": "M-1,0L5,0"}}
        }}
     ]}
    ]}
  ]
 },
 {
  "title": {"text": "Vive -eau", "orient": "left", "anchor": "middle", "frame": "bounds", "font": "Liberation Serif", "fontSize": 21, "fontWeight": "bold", "color": "#000", "offset": 15},
  "bounds": "flush", "spacing": 57.5,
  "resolve": {"scale": {"color": "independent", "strokeDash": "independent", "strokeWidth": "independent"}, "legend": {"color": "independent", "strokeDash": "independent", "strokeWidth": "independent"}},
  "hconcat": [
   {"width": 302, "height": 238, "resolve": {"scale": {"y": "independent"}},
    "layer": [
     {"layer": [
       {"data": {"name": "b1t"}, "mark": {"type": "line"},
        "encoding": {
         "x": {"field": "h", "type": "quantitative", "scale": {"domain": [0, 24.2], "nice": false, "zero": false}, "axis": {"values": [6, 18.4167], "labelExpr": "datum.value < 10 ? '22-Janv. 18:00' : '16-Janv. 06:25'", "title": "Date"}},
         "y": {"field": "v", "type": "quantitative", "scale": {"domain": [0, 1000], "nice": false}, "axis": {"orient": "left", "values": [0, 100, 200, 300, 400, 500, 600, 700, 800, 900, 1000], "tickCount": 20, "title": "Turbidité (NTU)"}},
         "color": {"datum": "Turb. (NTU)", "scale": {"domain": ["Turb. (NTU)", "Hₑ (m)", "Sal. (ppt)"], "range": ["#ec2227", "#e8282c", "#f38c8c"]}, "legend": {"title": null, "orient": "top-right", "symbolType": "M-1,0L5,0"}},
         "strokeDash": {"datum": "Turb. (NTU)", "scale": {"domain": ["Turb. (NTU)", "Hₑ (m)", "Sal. (ppt)"], "range": [[4, 3], [1, 0], [1, 0]]}, "legend": {"title": null, "orient": "top-right", "symbolType": "M-1,0L5,0"}},
         "strokeWidth": {"datum": "Turb. (NTU)", "type": "ordinal", "scale": {"domain": ["Turb. (NTU)", "Hₑ (m)", "Sal. (ppt)"], "range": [1.8, 2, 1.2]}, "legend": {"title": null, "orient": "top-right", "symbolType": "M-1,0L5,0"}}
        }},
       {"data": {"name": "b1p"}, "transform": [{"filter": "datum.type == 'A'"}], "mark": {"type": "text", "color": "#2f9e50", "font": "Liberation Serif", "fontWeight": "bold", "fontSize": 13},
        "encoding": {"x": {"field": "h", "type": "quantitative", "scale": {"domain": [0, 24.2], "nice": false, "zero": false}, "title": "Date"}, "y": {"field": "v", "type": "quantitative", "scale": {"domain": [0, 1000], "nice": false}, "title": "Turbidité (NTU)"}, "text": {"field": "label"}}},
       {"data": {"name": "b1p"}, "transform": [{"filter": "datum.type == 'B'"}], "mark": {"type": "text", "color": "#2b6fb0", "font": "Liberation Serif", "fontWeight": "bold", "fontSize": 13},
        "encoding": {"x": {"field": "h", "type": "quantitative", "scale": {"domain": [0, 24.2], "nice": false, "zero": false}, "title": "Date"}, "y": {"field": "v", "type": "quantitative", "scale": {"domain": [0, 1000], "nice": false}, "title": "Turbidité (NTU)"}, "text": {"field": "label"}}},
       {"data": {"values": [{}]}, "mark": {"type": "text", "text": "(b1)", "align": "left", "baseline": "top", "dx": 4, "dy": 3, "font": "Liberation Serif", "fontWeight": "bold", "fontSize": 14, "color": "#111"},
        "encoding": {"x": {"datum": 0, "type": "quantitative", "scale": {"domain": [0, 24.2], "nice": false, "zero": false}}, "y": {"datum": 1000, "type": "quantitative", "scale": {"domain": [0, 1000], "nice": false}}}}
     ]},
     {"layer": [
       {"data": {"name": "b1h"}, "mark": {"type": "line"},
        "encoding": {
         "x": {"field": "h", "type": "quantitative", "scale": {"domain": [0, 24.2], "nice": false, "zero": false}, "title": "Date"},
         "y": {"field": "v", "type": "quantitative", "scale": {"domain": [0, 20], "nice": false}, "axis": {"orient": "right", "values": [0, 2, 4, 6, 8, 10, 12, 14, 16, 18, 20], "tickCount": 20, "title": null}},
         "color": {"datum": "Hₑ (m)", "scale": {"domain": ["Turb. (NTU)", "Hₑ (m)", "Sal. (ppt)"], "range": ["#ec2227", "#e8282c", "#f38c8c"]}, "legend": {"title": null, "orient": "top-right", "symbolType": "M-1,0L5,0"}},
         "strokeDash": {"datum": "Hₑ (m)", "scale": {"domain": ["Turb. (NTU)", "Hₑ (m)", "Sal. (ppt)"], "range": [[4, 3], [1, 0], [1, 0]]}, "legend": {"title": null, "orient": "top-right", "symbolType": "M-1,0L5,0"}},
         "strokeWidth": {"datum": "Hₑ (m)", "type": "ordinal", "scale": {"domain": ["Turb. (NTU)", "Hₑ (m)", "Sal. (ppt)"], "range": [1.8, 2, 1.2]}, "legend": {"title": null, "orient": "top-right", "symbolType": "M-1,0L5,0"}}
        }},
       {"data": {"name": "b1s"}, "mark": {"type": "line"},
        "encoding": {
         "x": {"field": "h", "type": "quantitative", "scale": {"domain": [0, 24.2], "nice": false, "zero": false}, "title": "Date"},
         "y": {"field": "v", "type": "quantitative", "scale": {"domain": [0, 20], "nice": false}, "title": null},
         "color": {"datum": "Sal. (ppt)", "scale": {"domain": ["Turb. (NTU)", "Hₑ (m)", "Sal. (ppt)"], "range": ["#ec2227", "#e8282c", "#f38c8c"]}, "legend": {"title": null, "orient": "top-right", "symbolType": "M-1,0L5,0"}},
         "strokeDash": {"datum": "Sal. (ppt)", "scale": {"domain": ["Turb. (NTU)", "Hₑ (m)", "Sal. (ppt)"], "range": [[4, 3], [1, 0], [1, 0]]}, "legend": {"title": null, "orient": "top-right", "symbolType": "M-1,0L5,0"}},
         "strokeWidth": {"datum": "Sal. (ppt)", "type": "ordinal", "scale": {"domain": ["Turb. (NTU)", "Hₑ (m)", "Sal. (ppt)"], "range": [1.8, 2, 1.2]}, "legend": {"title": null, "orient": "top-right", "symbolType": "M-1,0L5,0"}}
        }}
     ]}
    ]},
   {"width": 302, "height": 238, "resolve": {"scale": {"y": "independent"}},
    "layer": [
     {"layer": [
       {"data": {"name": "b2t"}, "mark": {"type": "line"},
        "encoding": {
         "x": {"field": "h", "type": "quantitative", "scale": {"domain": [0, 24.2], "nice": false, "zero": false}, "axis": {"values": [6, 18.4167], "labelExpr": "datum.value < 10 ? '17-Mai 18:00' : '18-Mai 06:25'", "title": "Date"}},
         "y": {"field": "v", "type": "quantitative", "scale": {"domain": [0, 4000], "nice": false}, "axis": {"orient": "left", "values": [0, 500, 1000, 1500, 2000, 2500, 3000, 3500, 4000], "tickCount": 20, "title": null}},
         "color": {"datum": "Turb. (NTU)", "scale": {"domain": ["Turb. (NTU)", "Hₑ (m)", "Sal. (ppt)"], "range": ["#ec2227", "#e8282c", "#f38c8c"]}, "legend": {"title": null, "orient": "top-right", "offset": 4, "symbolType": "M-1,0L5,0"}},
         "strokeDash": {"datum": "Turb. (NTU)", "scale": {"domain": ["Turb. (NTU)", "Hₑ (m)", "Sal. (ppt)"], "range": [[4, 3], [1, 0], [1, 0]]}, "legend": {"title": null, "orient": "top-right", "offset": 4, "symbolType": "M-1,0L5,0"}},
         "strokeWidth": {"datum": "Turb. (NTU)", "type": "ordinal", "scale": {"domain": ["Turb. (NTU)", "Hₑ (m)", "Sal. (ppt)"], "range": [1.8, 2, 1.2]}, "legend": {"title": null, "orient": "top-right", "offset": 4, "symbolType": "M-1,0L5,0"}}
        }},
       {"data": {"name": "b2p"}, "transform": [{"filter": "datum.type == 'A'"}], "mark": {"type": "text", "color": "#2f9e50", "font": "Liberation Serif", "fontWeight": "bold", "fontSize": 13},
        "encoding": {"x": {"field": "h", "type": "quantitative", "scale": {"domain": [0, 24.2], "nice": false, "zero": false}, "title": "Date"}, "y": {"field": "v", "type": "quantitative", "scale": {"domain": [0, 4000], "nice": false}, "title": null}, "text": {"field": "label"}}},
       {"data": {"name": "b2p"}, "transform": [{"filter": "datum.type == 'B'"}], "mark": {"type": "text", "color": "#2b6fb0", "font": "Liberation Serif", "fontWeight": "bold", "fontSize": 13},
        "encoding": {"x": {"field": "h", "type": "quantitative", "scale": {"domain": [0, 24.2], "nice": false, "zero": false}, "title": "Date"}, "y": {"field": "v", "type": "quantitative", "scale": {"domain": [0, 4000], "nice": false}, "title": null}, "text": {"field": "label"}}},
       {"data": {"values": [{}]}, "mark": {"type": "text", "text": "(b2)", "align": "left", "baseline": "top", "dx": 4, "dy": 3, "font": "Liberation Serif", "fontWeight": "bold", "fontSize": 14, "color": "#111"},
        "encoding": {"x": {"datum": 0, "type": "quantitative", "scale": {"domain": [0, 24.2], "nice": false, "zero": false}}, "y": {"datum": 4000, "type": "quantitative", "scale": {"domain": [0, 4000], "nice": false}}}}
     ]},
     {"layer": [
       {"data": {"name": "b2h"}, "mark": {"type": "line"},
        "encoding": {
         "x": {"field": "h", "type": "quantitative", "scale": {"domain": [0, 24.2], "nice": false, "zero": false}, "title": "Date"},
         "y": {"field": "v", "type": "quantitative", "scale": {"domain": [0, 20], "nice": false}, "axis": {"orient": "right", "values": [0, 2, 4, 6, 8, 10, 12, 14, 16, 18, 20], "tickCount": 20, "title": null}},
         "color": {"datum": "Hₑ (m)", "scale": {"domain": ["Turb. (NTU)", "Hₑ (m)", "Sal. (ppt)"], "range": ["#ec2227", "#e8282c", "#f38c8c"]}, "legend": {"title": null, "orient": "top-right", "offset": 4, "symbolType": "M-1,0L5,0"}},
         "strokeDash": {"datum": "Hₑ (m)", "scale": {"domain": ["Turb. (NTU)", "Hₑ (m)", "Sal. (ppt)"], "range": [[4, 3], [1, 0], [1, 0]]}, "legend": {"title": null, "orient": "top-right", "offset": 4, "symbolType": "M-1,0L5,0"}},
         "strokeWidth": {"datum": "Hₑ (m)", "type": "ordinal", "scale": {"domain": ["Turb. (NTU)", "Hₑ (m)", "Sal. (ppt)"], "range": [1.8, 2, 1.2]}, "legend": {"title": null, "orient": "top-right", "offset": 4, "symbolType": "M-1,0L5,0"}}
        }},
       {"data": {"name": "b2s"}, "mark": {"type": "line"},
        "encoding": {
         "x": {"field": "h", "type": "quantitative", "scale": {"domain": [0, 24.2], "nice": false, "zero": false}, "title": "Date"},
         "y": {"field": "v", "type": "quantitative", "scale": {"domain": [0, 20], "nice": false}, "title": null},
         "color": {"datum": "Sal. (ppt)", "scale": {"domain": ["Turb. (NTU)", "Hₑ (m)", "Sal. (ppt)"], "range": ["#ec2227", "#e8282c", "#f38c8c"]}, "legend": {"title": null, "orient": "top-right", "offset": 4, "symbolType": "M-1,0L5,0"}},
         "strokeDash": {"datum": "Sal. (ppt)", "scale": {"domain": ["Turb. (NTU)", "Hₑ (m)", "Sal. (ppt)"], "range": [[4, 3], [1, 0], [1, 0]]}, "legend": {"title": null, "orient": "top-right", "offset": 4, "symbolType": "M-1,0L5,0"}},
         "strokeWidth": {"datum": "Sal. (ppt)", "type": "ordinal", "scale": {"domain": ["Turb. (NTU)", "Hₑ (m)", "Sal. (ppt)"], "range": [1.8, 2, 1.2]}, "legend": {"title": null, "orient": "top-right", "offset": 4, "symbolType": "M-1,0L5,0"}}
        }}
     ]}
    ]},
   {"width": 302, "height": 238, "resolve": {"scale": {"y": "independent"}},
    "layer": [
     {"layer": [
       {"data": {"name": "b3t"}, "mark": {"type": "line"},
        "encoding": {
         "x": {"field": "h", "type": "quantitative", "scale": {"domain": [0, 24.2], "nice": false, "zero": false}, "axis": {"values": [6, 18.4167], "labelExpr": "datum.value < 10 ? '31-Août 18:00' : '01-Sept. 18:00'", "title": "Date"}},
         "y": {"field": "v", "type": "quantitative", "scale": {"domain": [0, 1500], "nice": false}, "axis": {"orient": "left", "values": [0, 500, 1000, 1500], "tickCount": 20, "title": null}},
         "color": {"datum": "Turb. (NTU)", "scale": {"domain": ["Turb. (NTU)", "Hₑ (m)", "Sal. (ppt)"], "range": ["#ec2227", "#e8282c", "#f38c8c"]}, "legend": {"title": null, "orient": "top-right", "offset": 3, "symbolType": "M-1,0L5,0"}},
         "strokeDash": {"datum": "Turb. (NTU)", "scale": {"domain": ["Turb. (NTU)", "Hₑ (m)", "Sal. (ppt)"], "range": [[4, 3], [1, 0], [1, 0]]}, "legend": {"title": null, "orient": "top-right", "offset": 3, "symbolType": "M-1,0L5,0"}},
         "strokeWidth": {"datum": "Turb. (NTU)", "type": "ordinal", "scale": {"domain": ["Turb. (NTU)", "Hₑ (m)", "Sal. (ppt)"], "range": [1.8, 2, 1.2]}, "legend": {"title": null, "orient": "top-right", "offset": 3, "symbolType": "M-1,0L5,0"}}
        }},
       {"data": {"name": "b3p"}, "transform": [{"filter": "datum.type == 'A'"}], "mark": {"type": "text", "color": "#2f9e50", "font": "Liberation Serif", "fontWeight": "bold", "fontSize": 13},
        "encoding": {"x": {"field": "h", "type": "quantitative", "scale": {"domain": [0, 24.2], "nice": false, "zero": false}, "title": "Date"}, "y": {"field": "v", "type": "quantitative", "scale": {"domain": [0, 1500], "nice": false}, "title": null}, "text": {"field": "label"}}},
       {"data": {"name": "b3p"}, "transform": [{"filter": "datum.type == 'B'"}], "mark": {"type": "text", "color": "#2b6fb0", "font": "Liberation Serif", "fontWeight": "bold", "fontSize": 13},
        "encoding": {"x": {"field": "h", "type": "quantitative", "scale": {"domain": [0, 24.2], "nice": false, "zero": false}, "title": "Date"}, "y": {"field": "v", "type": "quantitative", "scale": {"domain": [0, 1500], "nice": false}, "title": null}, "text": {"field": "label"}}},
       {"data": {"values": [{}]}, "mark": {"type": "text", "text": "(b3)", "align": "left", "baseline": "top", "dx": 4, "dy": 3, "font": "Liberation Serif", "fontWeight": "bold", "fontSize": 14, "color": "#111"},
        "encoding": {"x": {"datum": 0, "type": "quantitative", "scale": {"domain": [0, 24.2], "nice": false, "zero": false}}, "y": {"datum": 1500, "type": "quantitative", "scale": {"domain": [0, 1500], "nice": false}}}}
     ]},
     {"layer": [
       {"data": {"name": "b3h"}, "mark": {"type": "line"},
        "encoding": {
         "x": {"field": "h", "type": "quantitative", "scale": {"domain": [0, 24.2], "nice": false, "zero": false}, "title": "Date"},
         "y": {"field": "v", "type": "quantitative", "scale": {"domain": [0, 20], "nice": false}, "axis": {"orient": "right", "values": [0, 2, 4, 6, 8, 10, 12, 14, 16, 18, 20], "tickCount": 20, "title": "Salinité (ppt) / Hauteur d eau (m)"}},
         "color": {"datum": "Hₑ (m)", "scale": {"domain": ["Turb. (NTU)", "Hₑ (m)", "Sal. (ppt)"], "range": ["#ec2227", "#e8282c", "#f38c8c"]}, "legend": {"title": null, "orient": "top-right", "offset": 3, "symbolType": "M-1,0L5,0"}},
         "strokeDash": {"datum": "Hₑ (m)", "scale": {"domain": ["Turb. (NTU)", "Hₑ (m)", "Sal. (ppt)"], "range": [[4, 3], [1, 0], [1, 0]]}, "legend": {"title": null, "orient": "top-right", "offset": 3, "symbolType": "M-1,0L5,0"}},
         "strokeWidth": {"datum": "Hₑ (m)", "type": "ordinal", "scale": {"domain": ["Turb. (NTU)", "Hₑ (m)", "Sal. (ppt)"], "range": [1.8, 2, 1.2]}, "legend": {"title": null, "orient": "top-right", "offset": 3, "symbolType": "M-1,0L5,0"}}
        }},
       {"data": {"name": "b3s"}, "mark": {"type": "line"},
        "encoding": {
         "x": {"field": "h", "type": "quantitative", "scale": {"domain": [0, 24.2], "nice": false, "zero": false}, "title": "Date"},
         "y": {"field": "v", "type": "quantitative", "scale": {"domain": [0, 20], "nice": false}, "title": "Salinité (ppt) / Hauteur d eau (m)"},
         "color": {"datum": "Sal. (ppt)", "scale": {"domain": ["Turb. (NTU)", "Hₑ (m)", "Sal. (ppt)"], "range": ["#ec2227", "#e8282c", "#f38c8c"]}, "legend": {"title": null, "orient": "top-right", "offset": 3, "symbolType": "M-1,0L5,0"}},
         "strokeDash": {"datum": "Sal. (ppt)", "scale": {"domain": ["Turb. (NTU)", "Hₑ (m)", "Sal. (ppt)"], "range": [[4, 3], [1, 0], [1, 0]]}, "legend": {"title": null, "orient": "top-right", "offset": 3, "symbolType": "M-1,0L5,0"}},
         "strokeWidth": {"datum": "Sal. (ppt)", "type": "ordinal", "scale": {"domain": ["Turb. (NTU)", "Hₑ (m)", "Sal. (ppt)"], "range": [1.8, 2, 1.2]}, "legend": {"title": null, "orient": "top-right", "offset": 3, "symbolType": "M-1,0L5,0"}}
        }}
     ]}
    ]}
  ]
 }
]
}
